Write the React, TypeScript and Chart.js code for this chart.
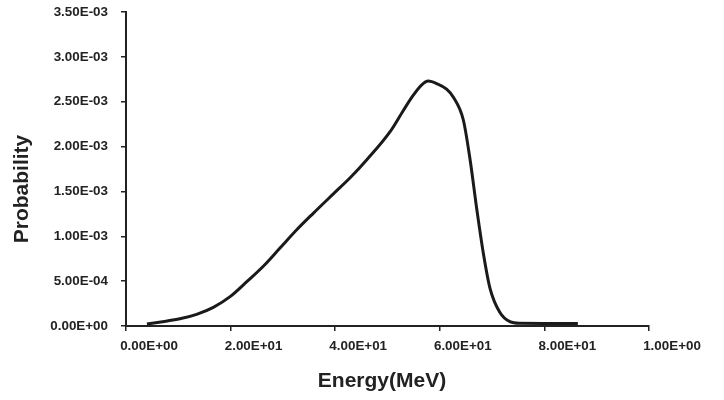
import React, { useEffect, useRef } from "react";
import { Chart, registerables } from "chart.js";

Chart.register(...registerables);

const energy = [4, 7, 10.3, 13.5, 16.7, 19.9, 23.1, 26.3, 29.4, 32.6, 35.8, 39.6, 43, 46, 50.5, 53, 54.9, 56.5, 57.8, 59.5, 61.3, 62.6, 64.5, 65.8, 67.1, 68.3, 69.6, 71.5, 73.4, 75.3, 80, 86.4];
const probability = [2.2e-5, 4.8e-5, 8.0e-5, 1.3e-4, 2.08e-4, 3.27e-4, 4.94e-4, 6.69e-4, 8.66e-4, 1.07e-3, 1.256e-3, 1.47e-3, 1.66e-3, 1.85e-3, 2.166e-3, 2.4e-3, 2.57e-3, 2.686e-3, 2.73e-3, 2.7e-3, 2.64e-3, 2.55e-3, 2.296e-3, 1.85e-3, 1.29e-3, 8.2e-4, 4.2e-4, 1.5e-4, 4.8e-5, 3e-5, 2.9e-5, 2.8e-5];
const xTickLabels = ["0.00E+00", "2.00E+01", "4.00E+01", "6.00E+01", "8.00E+01", "1.00E+00"];
const yTickLabels = ["0.00E+00", "5.00E-04", "1.00E-03", "1.50E-03", "2.00E-03", "2.50E-03", "3.00E-03", "3.50E-03"];
const xTitle = "Energy(MeV)";
const yTitle = "Probability";

const TEXT = "#222222";
const FONT = "'Liberation Sans', Arial, sans-serif";

const titlePlugin = {
  id: "axisTitles",
  afterDraw(chart: any) {
    const ctx = chart.ctx;
    ctx.save();
    ctx.fillStyle = TEXT;
    ctx.font = `bold 21px ${FONT}`;
    ctx.textAlign = "center";
    ctx.textBaseline = "middle";
    ctx.fillText(xTitle, 382, 381);
    ctx.translate(22, 189);
    ctx.rotate(-Math.PI / 2);
    ctx.fillText(yTitle, 0, 0);
    ctx.restore();
  },
};

export default function App() {
  const ref = useRef<HTMLCanvasElement | null>(null);
  useEffect(() => {
    if (!ref.current) return;
    const chart = new Chart(ref.current, {
      type: "line",
      data: {
        datasets: [
          {
            data: energy.map((e, i) => ({ x: e, y: probability[i] })),
            borderColor: "#1a1a1a",
            borderWidth: 3,
            pointRadius: 0,
            fill: false,
            cubicInterpolationMode: "monotone",
          },
        ],
      },
      options: {
        animation: false,
        responsive: true,
        maintainAspectRatio: false,
        layout: { padding: { left: 0, right: 75, top: 12, bottom: 0 } },
        plugins: { legend: { display: false }, tooltip: { enabled: false } },
        scales: {
          x: {
            type: "linear",
            min: 0,
            max: 100,
            afterFit: (s: any) => {
              s.height = 74;
              s.paddingLeft = 0;
              s.paddingRight = 0;
            },
            ticks: {
              stepSize: 20,
              callback: (_v: any, i: number) => xTickLabels[i],
              font: { family: FONT, size: 13.4, weight: "bold" },
              color: TEXT,
              labelOffset: 23,
              padding: 7,
              maxRotation: 0,
              autoSkip: false,
            },
            grid: { drawOnChartArea: false, drawTicks: true, tickLength: 5, color: "#222", lineWidth: 1.5 },
            border: { color: "#222", width: 2 },
          },
          y: {
            min: 0,
            max: 0.0035,
            afterFit: (s: any) => {
              s.width = 126;
              s.paddingTop = 0;
              s.paddingBottom = 0;
            },
            ticks: {
              stepSize: 0.0005,
              callback: (_v: any, i: number) => yTickLabels[i],
              font: { family: FONT, size: 13.4, weight: "bold" },
              color: TEXT,
              padding: 13,
              autoSkip: false,
            },
            grid: { drawOnChartArea: false, drawTicks: true, tickLength: 5, color: "#222", lineWidth: 1.5 },
            border: { color: "#222", width: 2 },
          },
        },
      },
      plugins: [titlePlugin],
    } as any);
    return () => chart.destroy();
  }, []);
  return (
    <div style={{ position: "fixed", left: 0, top: 0, width: 724, height: 400, background: "#fff" }}>
      <canvas ref={ref} />
    </div>
  );
}
